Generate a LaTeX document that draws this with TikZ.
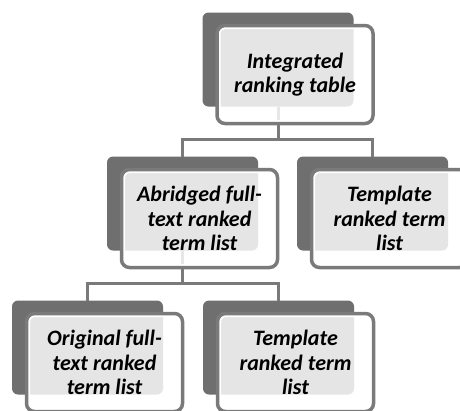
\documentclass[tikz,border=0pt]{standalone}
\usepackage{fontspec}
\setmainfont{Carlito}
\usepackage{tikz}
\usetikzlibrary{positioning}

\definecolor{backgray}{HTML}{6F6F6F}
\definecolor{framegray}{HTML}{7A7A7A}

\begin{document}
\begin{tikzpicture}[x=1pt, y=1pt,
    backbox/.style={fill=backgray, rounded corners=6pt, minimum width=151pt,
      minimum height=94pt, inner sep=0pt, outer sep=0pt},
    frontbox/.style={fill=white, fill opacity=.82, text opacity=1, draw=white,
      line width=2pt, rounded corners=6pt, minimum width=151pt, minimum height=93pt,
      inner sep=0pt, outer sep=0pt, align=center,
      font=\fontsize{22}{24.5}\selectfont\bfseries\itshape},
    frameline/.style={draw=framegray, line width=3.5pt, rounded corners=8pt},
    link/.style={draw=framegray, line width=3pt}]
  \clip (0,0) rectangle (460,-410);
  \fill[white] (0,0) rectangle (460,-410);
  % dark boxes behind
  \node[backbox] (top)  at (278,-59.5) {};
  \node[backbox] (midL) at (182.5,-203.5) {};
  \node[backbox] (midR) at (372.5,-203.5) {};
  \node[backbox] (botL) at (87.5,-347.5) {};
  \node[backbox] (botR) at (278.5,-347.5) {};
  % connectors
  \draw[link] (top.south) -- ++(0,-33) -| (midL.north);
  \draw[link] (top.south) -- ++(0,-33) -| (midR.north);
  \draw[link] (midL.south) -- ++(0,-33) -| (botL.north);
  \draw[link] (midL.south) -- ++(0,-33) -| (botR.north);
  % front boxes with the text
  \node[frontbox] (topF)  at ([shift={(17pt,-15pt)}]top.center) {Integrated\\ranking table};
  \node[frontbox] (midLF) at ([shift={(17pt,-15pt)}]midL.center) {Abridged full-\\text ranked\\term list};
  \node[frontbox] (midRF) at ([shift={(17pt,-15pt)}]midR.center) {Template\\ranked term\\list};
  \node[frontbox] (botLF) at ([shift={(17pt,-15pt)}]botL.center) {Original full-\\text ranked\\term list};
  \node[frontbox] (botRF) at ([shift={(17pt,-15pt)}]botR.center) {Template\\ranked term\\list};
  \foreach \n in {topF, midLF, midRF, botLF, botRF}
    \draw[frameline] ([shift={(-2.5pt,2.5pt)}]\n.north west) rectangle ([shift={(2.5pt,-2.5pt)}]\n.south east);
\end{tikzpicture}
\end{document}
